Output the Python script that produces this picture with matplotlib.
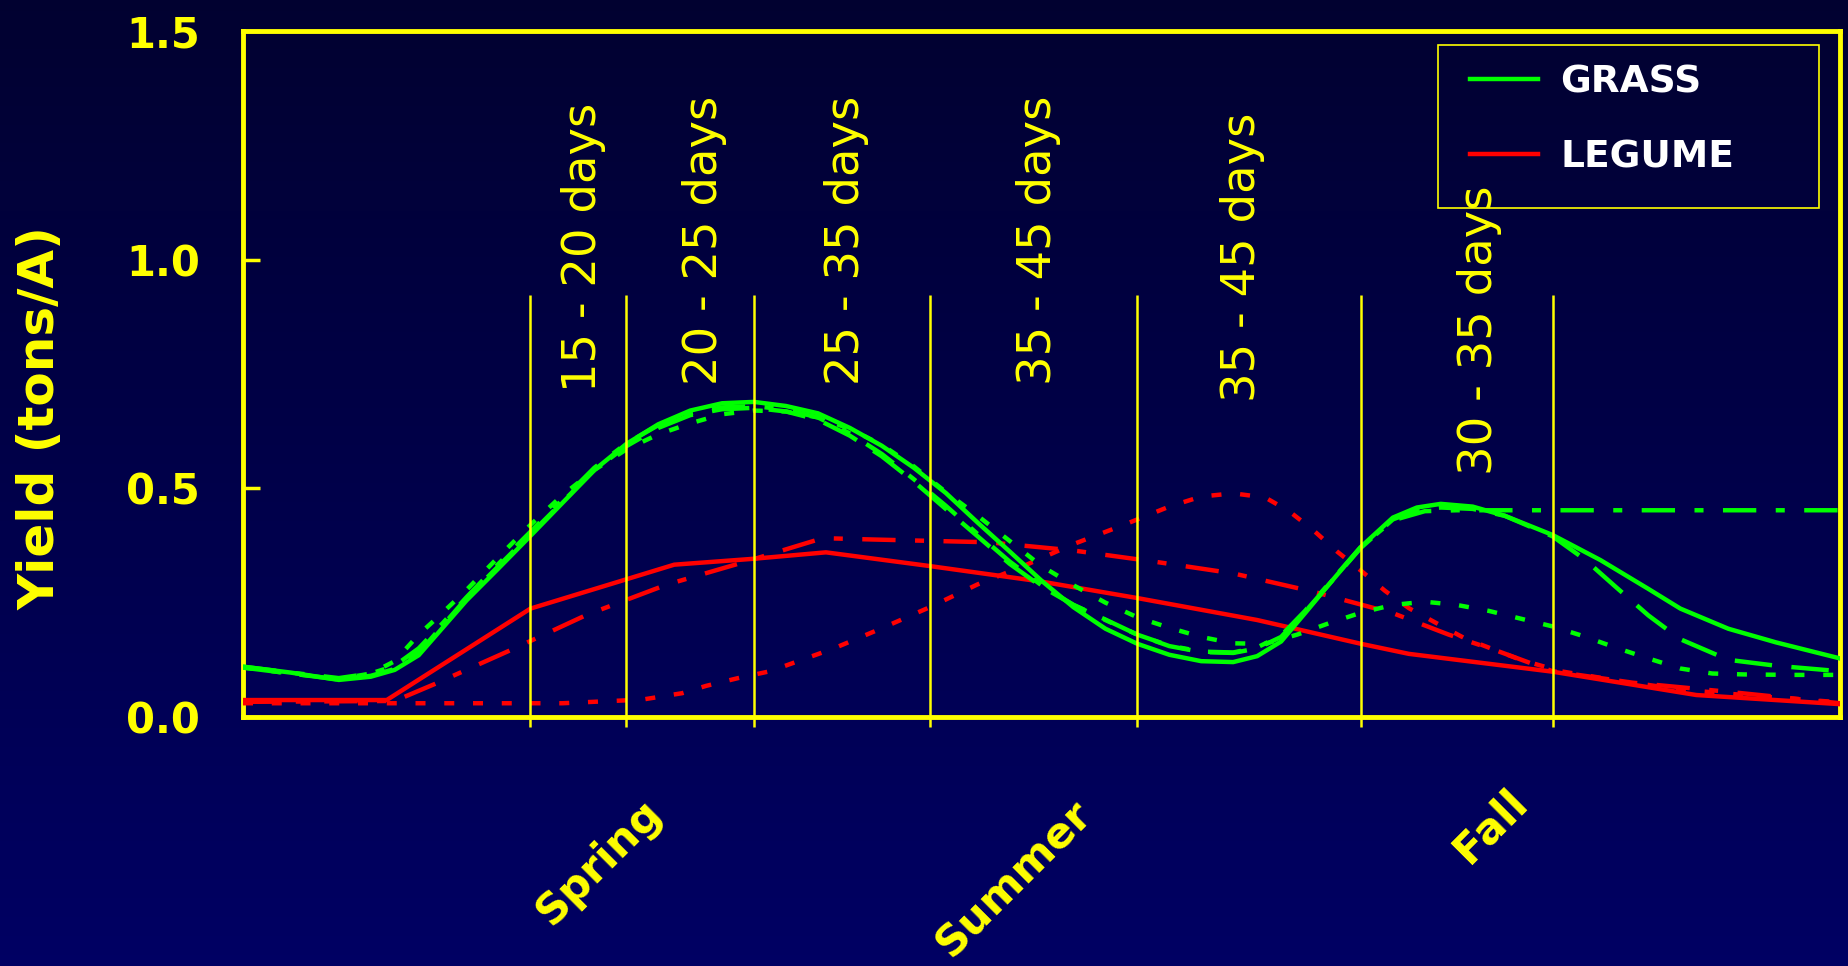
import numpy as np
import matplotlib
matplotlib.use("Agg")
import matplotlib.pyplot as plt
from matplotlib.patches import Rectangle

plt.rcParams['lines.scale_dashes'] = False
plt.rcParams['font.family'] = ['DejaVu Sans']

YELLOW = '#ffff00'
GREEN = '#00ff00'
RED = '#ff0000'

# Season position along the growing season (0 = early spring, 100 = late fall)
grass_solid_x = [0, 3, 6, 8, 9.5, 11, 12.5, 14, 16, 18, 20, 22, 24, 26, 28, 30, 32, 34, 36, 38,
                 40, 42, 44, 46, 48, 50, 52, 54, 56, 58, 60, 62, 63.5, 65, 66.5, 68, 70, 72, 73.5,
                 75, 77, 79, 82, 85, 88, 90, 93, 96, 100]
grass_solid_y = [0.110, 0.097, 0.081, 0.088, 0.103, 0.135, 0.195, 0.255, 0.325, 0.396, 0.468,
                 0.540, 0.597, 0.640, 0.670, 0.686, 0.689, 0.680, 0.664, 0.632, 0.593, 0.545,
                 0.490, 0.425, 0.362, 0.298, 0.240, 0.193, 0.160, 0.136, 0.122, 0.120, 0.133,
                 0.165, 0.227, 0.290, 0.372, 0.436, 0.458, 0.466, 0.460, 0.440, 0.398, 0.343,
                 0.280, 0.237, 0.193, 0.163, 0.128]

grass_dash_x = [0, 3, 6, 8, 9.5, 11, 12.5, 14, 16, 18, 20, 22, 24, 26, 28, 30, 32, 34, 36, 38,
                40, 42, 44, 46, 48, 50, 52, 54, 56, 58, 60, 62, 63.5, 65, 66.5, 68, 70, 72, 73.5,
                75, 77, 79, 82, 84, 86, 88, 90, 93, 96, 100]
grass_dash_y = [0.108, 0.095, 0.082, 0.090, 0.105, 0.140, 0.200, 0.260, 0.330, 0.400, 0.470,
                0.540, 0.592, 0.632, 0.660, 0.673, 0.676, 0.668, 0.650, 0.615, 0.570, 0.515,
                0.455, 0.395, 0.335, 0.285, 0.245, 0.213, 0.180, 0.155, 0.142, 0.140, 0.150,
                0.175, 0.230, 0.290, 0.370, 0.432, 0.452, 0.458, 0.455, 0.440, 0.395, 0.345,
                0.283, 0.222, 0.170, 0.125, 0.112, 0.100]

grass_dashdot_x = [0, 3, 6, 8, 9.5, 11, 12.5, 14, 16, 18, 20, 22, 24, 26, 28, 30, 32, 34, 36, 38,
                   40, 42, 44, 46, 48, 50, 52, 54, 56, 58, 60, 62, 63.5, 65, 66.5, 68, 70, 72, 74,
                   76, 100]
grass_dashdot_y = [0.110, 0.097, 0.085, 0.095, 0.112, 0.150, 0.205, 0.262, 0.335, 0.405, 0.475,
                   0.545, 0.598, 0.638, 0.664, 0.677, 0.680, 0.672, 0.655, 0.620, 0.575, 0.520,
                   0.462, 0.400, 0.340, 0.288, 0.245, 0.212, 0.180, 0.156, 0.143, 0.141, 0.152,
                   0.178, 0.232, 0.292, 0.372, 0.430, 0.450, 0.452, 0.452]

grass_dot_x = [0, 3, 6, 8, 9.5, 11, 12.5, 14, 16, 18, 20, 22, 24, 26, 28, 30, 32, 34, 36, 38,
               40, 42, 44, 46, 48, 50, 52, 54, 56, 58, 60, 62, 64, 66, 68, 70, 72, 74, 76, 78,
               80, 82, 84, 86, 88, 90, 92, 94, 97, 100]
grass_dot_y = [0.108, 0.095, 0.083, 0.095, 0.122, 0.180, 0.228, 0.278, 0.350, 0.420, 0.485,
               0.540, 0.585, 0.618, 0.642, 0.662, 0.670, 0.668, 0.655, 0.630, 0.595, 0.548,
               0.492, 0.440, 0.385, 0.330, 0.288, 0.250, 0.218, 0.195, 0.175, 0.161, 0.160,
               0.180, 0.205, 0.228, 0.245, 0.252, 0.245, 0.232, 0.215, 0.198, 0.176, 0.151,
               0.128, 0.106, 0.095, 0.093, 0.092, 0.092]

legume_solid_x = [0, 9, 18, 27, 32, 36.5, 43, 50, 56, 63.5, 70, 73, 82, 91, 100]
legume_solid_y = [0.037, 0.037, 0.237, 0.333, 0.346, 0.360, 0.330, 0.296, 0.260, 0.212, 0.160,
                  0.138, 0.099, 0.048, 0.028]

legume_dashdot_x = [0, 9.5, 12, 17, 21.5, 26.5, 31.5, 36.3, 39.5, 46.7, 52, 57, 62, 67, 72, 75.5,
                    78.5, 82, 87, 93, 100]
legume_dashdot_y = [0.033, 0.035, 0.072, 0.150, 0.223, 0.289, 0.340, 0.391, 0.388, 0.382, 0.364,
                    0.340, 0.314, 0.274, 0.227, 0.180, 0.145, 0.100, 0.075, 0.055, 0.030]

legume_dot_x = [0, 10, 20, 25, 27.5, 29, 31, 33, 35, 37, 40, 43, 46, 49, 52, 55, 58, 60, 62, 64,
                65.5, 67, 68.5, 70, 71.5, 73, 75, 76.5, 78.5, 80, 82.5, 86, 90, 95, 100]
legume_dot_y = [0.030, 0.030, 0.030, 0.038, 0.052, 0.068, 0.085, 0.100, 0.125, 0.150, 0.194,
                0.240, 0.290, 0.332, 0.378, 0.418, 0.460, 0.482, 0.489, 0.480, 0.450, 0.409,
                0.362, 0.320, 0.276, 0.238, 0.200, 0.172, 0.145, 0.125, 0.100, 0.080, 0.060,
                0.045, 0.032]

# Harvest boundaries and the cutting intervals between them
cut_x = [18, 24, 32, 43, 56, 70, 82]
interval_labels = ['15 - 20 days', '20 - 25 days', '25 - 35 days',
                   '35 - 45 days', '35 - 45 days', '30 - 35 days']
interval_label_x = [21.3, 28.9, 37.8, 49.8, 62.6, 77.4]
interval_label_y = [0.711, 0.726, 0.726, 0.726, 0.689, 0.529]

seasons = ['Spring', 'Summer', 'Fall']
season_x = [22.3, 48.3, 78.1]
season_y = [-0.316, -0.354, -0.239]

yticks = [0.0, 0.5, 1.0, 1.5]
ytick_labels = ['0.0', '0.5', '1.0', '1.5']

fig = plt.figure(figsize=(18.48, 9.66), dpi=100)

# Vertical navy gradient behind everything
bg = fig.add_axes([0, 0, 1, 1], zorder=-10)
grad = np.linspace(0, 1, 256).reshape(-1, 1)
top = np.array([0.005, 0.005, 0.19])
bottom = np.array([0.0, 0.0, 0.39])
img = top + (bottom - top) * grad[..., None]
bg.imshow(img, aspect='auto', extent=[0, 1, 0, 1], origin='upper')
bg.set_axis_off()

ax = fig.add_axes([0.1315, 0.2578, 0.8642, 0.7101])
ax.set_facecolor('none')

lw = 3.2
dot = (0, (7.2, 13.5))
longdash = (0, (27, 14))
dashdot = (0, (24, 14, 6.5, 14))

ax.plot(legume_dot_x, legume_dot_y, color=RED, lw=lw, linestyle=dot, zorder=3)
ax.plot(legume_dashdot_x, legume_dashdot_y, color=RED, lw=lw, linestyle=dashdot, zorder=3)
legume_line, = ax.plot(legume_solid_x, legume_solid_y, color=RED, lw=lw, zorder=3)
ax.plot(grass_dot_x, grass_dot_y, color=GREEN, lw=lw, linestyle=dot, zorder=3)
ax.plot(grass_dashdot_x, grass_dashdot_y, color=GREEN, lw=lw, linestyle=dashdot, zorder=3)
ax.plot(grass_dash_x, grass_dash_y, color=GREEN, lw=lw, linestyle=longdash, zorder=3)
grass_line, = ax.plot(grass_solid_x, grass_solid_y, color=GREEN, lw=lw, zorder=3)

ax.vlines(cut_x, -0.022, 0.923, color=YELLOW, lw=1.8, zorder=4, clip_on=False)

for label, x, y in zip(interval_labels, interval_label_x, interval_label_y):
    ax.text(x, y, label, rotation=90, ha='center', va='bottom', color=YELLOW,
            fontsize=33.5, zorder=6, clip_on=False)

for label, x, y in zip(seasons, season_x, season_y):
    ax.text(x, y, label, rotation=45, rotation_mode='anchor', ha='center', va='center',
            color=YELLOW, fontsize=31, fontweight='bold', clip_on=False)

ax.set_xlim(0, 100)
ax.set_ylim(0, 1.5)
ax.set_xticks([])
ax.set_yticks(yticks)
ax.set_yticklabels(ytick_labels)
ax.tick_params(axis='y', direction='in', length=12, width=2.5, color=YELLOW,
               labelcolor=YELLOW, labelsize=30, pad=31)
for t in ax.get_yticklabels():
    t.set_fontweight('bold')
for s in ax.spines.values():
    s.set_color(YELLOW)
    s.set_linewidth(3.5)

fig.text(41 / 1848, 1 - 418 / 966, 'Yield (tons/A)', rotation=90, ha='center', va='center',
         color=YELLOW, fontsize=36, fontweight='bold')

# Legend box and entries
ax.add_patch(Rectangle((0.7485, 0.7415), 0.2383, 0.2381, transform=ax.transAxes,
                       fill=False, edgecolor=YELLOW, lw=1.2, zorder=5, clip_on=False))
ax.legend([grass_line, legume_line], ['GRASS', 'LEGUME'], loc='upper left',
          bbox_to_anchor=(0.768, 0.951), frameon=False, borderpad=0, borderaxespad=0,
          handlelength=1.82, handletextpad=0.6, labelspacing=1.04, labelcolor='white',
          prop={'size': 27, 'weight': 'bold'})

fig.savefig('out.png', dpi=100, facecolor=fig.get_facecolor())
